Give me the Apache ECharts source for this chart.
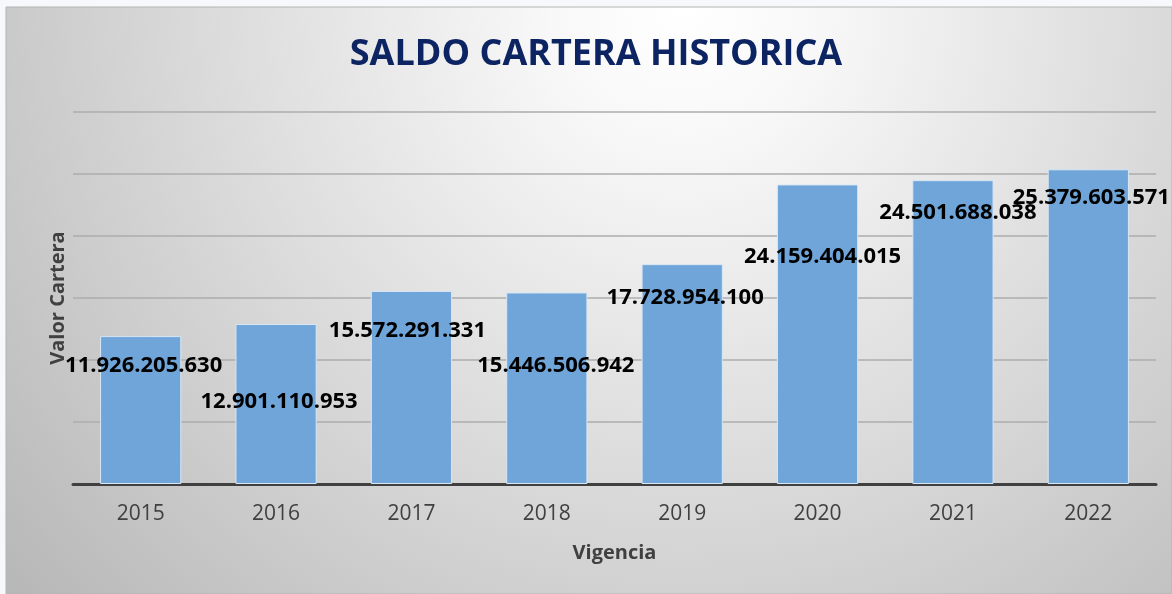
<!DOCTYPE html>
<html>
<head>
<meta charset="utf-8">
<script src="https://cdn.jsdelivr.net/npm/echarts@6/dist/echarts.min.js"></script>
<style>
  html, body { margin: 0; padding: 0; background: #f6f8fb; }
  #chart { width: 1172px; height: 594px; }
</style>
</head>
<body>
<div id="chart"></div>
<script>
// ---- data ----
const categories = ['2015', '2016', '2017', '2018', '2019', '2020', '2021', '2022'];
const saldoCartera = [11926205630, 12901110953, 15572291331, 15446506942, 17728954100, 24159404015, 24501688038, 25379603571];
const titleText = 'SALDO CARTERA HISTORICA';
const xAxisName = 'Vigencia';
const yAxisName = 'Valor Cartera';

// ---- layout (label placement relative to bar top centre) ----
const labelShift = [[3, 30], [3, 78], [-4, 40], [9, 73], [3, 34], [5, 72], [5, 33], [3, 28]];

function fmt(v) {
  return String(v).replace(/\B(?=(\d{3})+(?!\d))/g, '.');
}

const chart = echarts.init(document.getElementById('chart'));
const option = {
  animation: false,
  backgroundColor: '#f6f8fb',
  graphic: [
    {
      type: 'rect', z: -10, silent: true,
      shape: { x: 6, y: 7, width: 1166, height: 587 },
      style: {
        fill: new echarts.graphic.RadialGradient(0.58, 0.0, 1.5, [
          { offset: 0, color: '#ffffff' },
          { offset: 0.15, color: '#f8f8f8' },
          { offset: 1, color: '#b8b8b8' }
        ]),
        stroke: '#b4b4b4', lineWidth: 1
      }
    },
    {
      type: 'text', z: 10, silent: true,
      style: {
        text: titleText, x: 596, y: 55, align: 'center', verticalAlign: 'middle',
        font: 'bold 36px "Open Sans"', fill: '#0d2463'
      }
    }
  ],
  grid: { left: 73, right: 16, top: 112, bottom: 110 },
  xAxis: {
    type: 'category',
    data: categories,
    name: xAxisName,
    nameLocation: 'middle',
    nameGap: 59,
    nameTextStyle: { fontFamily: 'Open Sans', fontWeight: 'bold', fontSize: 20, color: '#404040' },
    axisLine: { lineStyle: { color: '#404040', width: 3 } },
    axisTick: { show: false },
    axisLabel: { fontFamily: 'Open Sans', fontSize: 21, color: '#404040', margin: 20 }
  },
  yAxis: {
    type: 'value',
    min: 0, max: 30000000000, interval: 5000000000,
    name: yAxisName,
    nameLocation: 'middle',
    nameGap: 5,
    nameTextStyle: { fontFamily: 'Open Sans', fontWeight: 'bold', fontSize: 20, color: '#404040' },
    axisLine: { show: false },
    axisTick: { show: false },
    axisLabel: { show: false },
    splitLine: { lineStyle: { color: '#adadad', width: 1.5 } }
  },
  series: [{
    type: 'bar',
    data: saldoCartera,
    barCategoryGap: '40%',
    itemStyle: { color: '#6fa5d8', borderColor: '#d9e7f4', borderWidth: 1 },
    label: {
      show: true,
      position: 'top',
      formatter: p => fmt(p.value),
      fontFamily: 'Open Sans',
      fontWeight: 'bold',
      fontSize: 22,
      color: '#000000'
    },
    labelLayout: function (params) {
      const s = labelShift[params.dataIndex];
      return {
        x: params.rect.x + params.rect.width / 2 + s[0],
        y: params.rect.y + s[1],
        align: 'center',
        verticalAlign: 'middle',
        hideOverlap: false
      };
    }
  }]
};
chart.setOption(option);
</script>
</body>
</html>
